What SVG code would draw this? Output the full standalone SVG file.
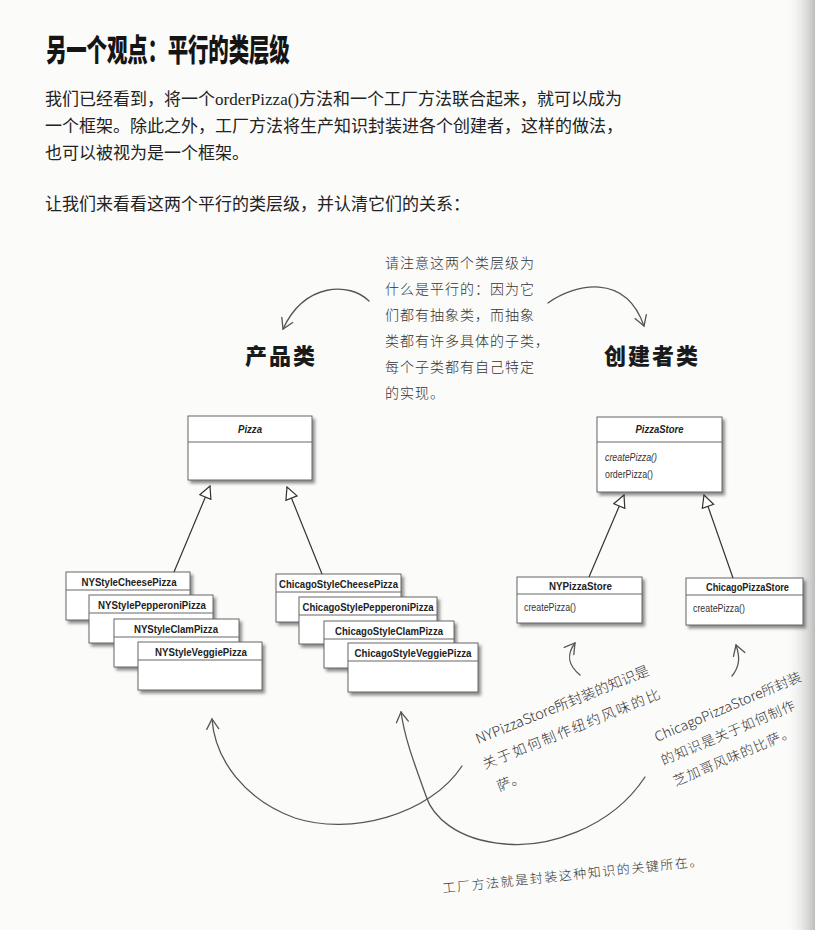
<svg xmlns="http://www.w3.org/2000/svg" width="815" height="930" viewBox="0 0 815 930">
<defs>
<style>
.bg{fill:#fbfbfa}
.title{font-family:"Noto Sans CJK SC","Noto Sans",sans-serif;font-weight:900;fill:#151515}
.para{font-family:"Liberation Serif","Noto Sans CJK SC",serif;font-size:17px;fill:#222}
.hand{font-family:"Noto Sans CJK SC","Noto Sans",sans-serif;font-weight:300;fill:#333}
.cat{font-family:"Noto Sans CJK SC",sans-serif;font-weight:900;font-size:22px;fill:#1a1a1a;letter-spacing:2px}
.box{fill:#fff;stroke:#666;stroke-width:1;filter:url(#sh)}
.div{stroke:#666;stroke-width:1}
.cn{font-family:"Liberation Sans",Arial,sans-serif;font-weight:bold;font-size:11px;fill:#222;text-anchor:middle}
.ab{font-style:italic}
.mt{font-family:"Liberation Sans",Arial,sans-serif;font-size:10px;fill:#333}
.inh{stroke:#333;stroke-width:1.2;fill:none;marker-end:url(#tri)}
.pen{stroke:#555;stroke-width:1.3;fill:none;stroke-linecap:round;stroke-linejoin:round}
</style>
<filter id="sh" x="-10%" y="-10%" width="130%" height="140%">
<feDropShadow dx="2.5" dy="3" stdDeviation="1.6" flood-color="#444" flood-opacity="0.6"/>
</filter>
<marker id="tri" viewBox="0 0 14 14" refX="13" refY="7" markerWidth="14" markerHeight="14" orient="auto" markerUnits="userSpaceOnUse">
<path d="M1,1 L13,7 L1,13 Z" fill="#fff" stroke="#333" stroke-width="1.2"/>
</marker>
<marker id="v" viewBox="0 0 14 14" refX="12" refY="7" markerWidth="14" markerHeight="14" orient="auto" markerUnits="userSpaceOnUse">
<path d="M2,1 L12,7 L2,13" fill="none" stroke="#555" stroke-width="1.3" stroke-linecap="round"/>
</marker>
<linearGradient id="edge" x1="0" y1="0" x2="1" y2="0">
<stop offset="0" stop-color="#fbfbfa" stop-opacity="0"/>
<stop offset="1" stop-color="#bdbdbd"/>
</linearGradient>
</defs>
<rect class="bg" x="0" y="0" width="815" height="930"/>
<rect x="785" y="0" width="30" height="930" fill="url(#edge)"/>

<g id="title">
<text class="title" transform="translate(46,61) scale(1,1.5)" font-size="20.5" letter-spacing="-0.2">另一个观点：平行的类层级</text>
</g>

<g id="intro">
<text class="para" x="45" y="105">我们已经看到，将一个orderPizza()方法和一个工厂方法联合起来，就可以成为</text>
<text class="para" x="45" y="132">一个框架。除此之外，工厂方法将生产知识封装进各个创建者，这样的做法，</text>
<text class="para" x="45" y="159">也可以被视为是一个框架。</text>
<text class="para" x="45" y="210">让我们来看看这两个平行的类层级，并认清它们的关系：</text>
</g>

<g id="note-parallel" class="hand" font-size="14" letter-spacing="1">
<text x="385" y="268">请注意这两个类层级为</text>
<text x="385" y="294">什么是平行的：因为它</text>
<text x="385" y="320">们都有抽象类，而抽象</text>
<text x="385" y="346">类都有许多具体的子类，</text>
<text x="385" y="372">每个子类都有自己特定</text>
<text x="385" y="398">的实现。</text>
</g>

<g id="label-product"><text class="cat" x="245" y="364">产品类</text></g>
<g id="label-creator"><text class="cat" x="604" y="364">创建者类</text></g>

<g id="Pizza">
<rect class="box" x="188" y="416" width="124" height="64"/>
<line class="div" x1="188" y1="442" x2="312" y2="442"/>
<text class="cn ab" x="250" y="433" textLength="24" lengthAdjust="spacingAndGlyphs">Pizza</text>
</g>

<g id="NYStyleCheesePizza">
<rect class="box" x="66" y="572" width="124" height="48"/>
<line class="div" x1="66" y1="590" x2="190" y2="590"/>
<text class="cn" x="129" y="585.5" textLength="95" lengthAdjust="spacingAndGlyphs">NYStyleCheesePizza</text>
</g>
<g id="NYStylePepperoniPizza">
<rect class="box" x="89" y="595" width="124" height="48"/>
<line class="div" x1="89" y1="613" x2="213" y2="613"/>
<text class="cn" x="152" y="608.5" textLength="108" lengthAdjust="spacingAndGlyphs">NYStylePepperoniPizza</text>
</g>
<g id="NYStyleClamPizza">
<rect class="box" x="114" y="619" width="125" height="48"/>
<line class="div" x1="114" y1="637" x2="239" y2="637"/>
<text class="cn" x="176" y="632.5" textLength="84" lengthAdjust="spacingAndGlyphs">NYStyleClamPizza</text>
</g>
<g id="NYStyleVeggiePizza">
<rect class="box" x="138" y="642" width="124" height="48"/>
<line class="div" x1="138" y1="660" x2="262" y2="660"/>
<text class="cn" x="201" y="655.5" textLength="92" lengthAdjust="spacingAndGlyphs">NYStyleVeggiePizza</text>
</g>

<g id="ChicagoStyleCheesePizza">
<rect class="box" x="276" y="574" width="125" height="48"/>
<line class="div" x1="276" y1="592" x2="401" y2="592"/>
<text class="cn" x="338.5" y="587.5" textLength="119" lengthAdjust="spacingAndGlyphs">ChicagoStyleCheesePizza</text>
</g>
<g id="ChicagoStylePepperoniPizza">
<rect class="box" x="299" y="597" width="138" height="47"/>
<line class="div" x1="299" y1="615" x2="437" y2="615"/>
<text class="cn" x="368" y="610.5" textLength="131" lengthAdjust="spacingAndGlyphs">ChicagoStylePepperoniPizza</text>
</g>
<g id="ChicagoStyleClamPizza">
<rect class="box" x="324" y="621" width="130" height="47"/>
<line class="div" x1="324" y1="639" x2="454" y2="639"/>
<text class="cn" x="389" y="634.5" textLength="108" lengthAdjust="spacingAndGlyphs">ChicagoStyleClamPizza</text>
</g>
<g id="ChicagoStyleVeggiePizza">
<rect class="box" x="348" y="643" width="130" height="49"/>
<line class="div" x1="348" y1="661" x2="478" y2="661"/>
<text class="cn" x="413" y="656.5" textLength="117" lengthAdjust="spacingAndGlyphs">ChicagoStyleVeggiePizza</text>
</g>

<g id="PizzaStore">
<rect class="box" x="597" y="417" width="125" height="75"/>
<line class="div" x1="597" y1="442" x2="722" y2="442"/>
<text class="cn ab" x="659.5" y="433" textLength="48" lengthAdjust="spacingAndGlyphs">PizzaStore</text>
<text class="mt" x="605" y="461" font-style="italic" textLength="52" lengthAdjust="spacingAndGlyphs">createPizza()</text>
<text class="mt" x="605" y="478" textLength="48" lengthAdjust="spacingAndGlyphs">orderPizza()</text>
</g>

<g id="NYPizzaStore">
<rect class="box" x="517" y="577" width="125" height="46"/>
<line class="div" x1="517" y1="594" x2="642" y2="594"/>
<text class="cn" x="580.5" y="590" textLength="63" lengthAdjust="spacingAndGlyphs">NYPizzaStore</text>
<text class="mt" x="524" y="611" textLength="52" lengthAdjust="spacingAndGlyphs">createPizza()</text>
</g>
<g id="ChicagoPizzaStore">
<rect class="box" x="686" y="578" width="117" height="47"/>
<line class="div" x1="686" y1="595" x2="803" y2="595"/>
<text class="cn" x="747.5" y="591" textLength="83" lengthAdjust="spacingAndGlyphs">ChicagoPizzaStore</text>
<text class="mt" x="693" y="612" textLength="52" lengthAdjust="spacingAndGlyphs">createPizza()</text>
</g>

<g id="connectors">
<line class="inh" x1="174" y1="572" x2="210" y2="486"/>
<line class="inh" x1="322" y1="574" x2="287" y2="487"/>
<line class="inh" x1="589" y1="577" x2="624" y2="495"/>
<line class="inh" x1="733" y1="578" x2="704" y2="495"/>
<path class="pen" d="M369,301 C350,282 305,282 283,329" marker-end="url(#v)"/>
<path class="pen" d="M548,303 C575,284 625,272 644,326" marker-end="url(#v)"/>
<path class="pen" d="M580,675 C568,665 566,655 575,643" marker-end="url(#v)"/>
<path class="pen" d="M732,676 C740,666 740,657 736,645" marker-end="url(#v)"/>
<path class="pen" d="M462,766 C430,815 350,836 295,818 C245,800 215,760 212,719" marker-end="url(#v)"/>
<path class="pen" d="M645,777 C610,830 545,848 505,844 C455,840 432,815 426,796 C415,765 405,740 401,712" marker-end="url(#v)"/>
</g>

<g id="note-ny" class="hand" font-size="14" transform="translate(478,744) rotate(-22)">
<text x="0" y="0" textLength="186" lengthAdjust="spacingAndGlyphs">NYPizzaStore所封装的知识是</text>
<text x="-3" y="26" letter-spacing="2">关于如何制作纽约风味的比</text>
<text x="2" y="52">萨。</text>
</g>

<g id="note-chicago" class="hand" font-size="13.5" transform="translate(657,742) rotate(-23)">
<text x="0" y="0" textLength="158" lengthAdjust="spacingAndGlyphs">ChicagoPizzaStore所封装</text>
<text x="-3" y="24" letter-spacing="1">的知识是关于如何制作</text>
<text x="0" y="48" letter-spacing="1">芝加哥风味的比萨。</text>
</g>

<g id="note-key" class="hand" font-size="13" transform="translate(443,893) rotate(-6)">
<text x="0" y="0" letter-spacing="1.6">工厂方法就是封装这种知识的关键所在。</text>
</g>
</svg>
